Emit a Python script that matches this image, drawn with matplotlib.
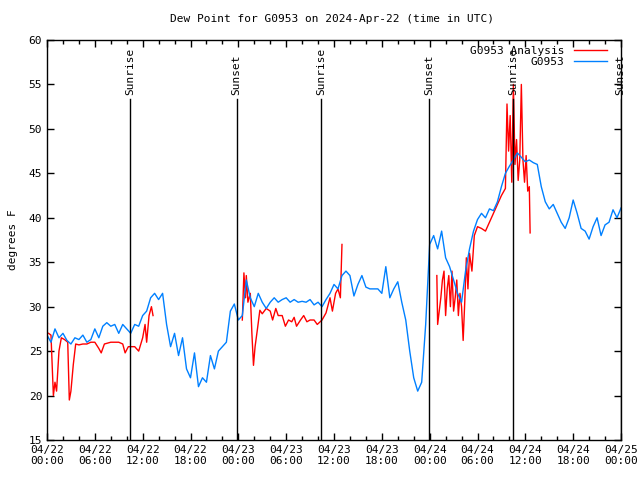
import numpy as np
import matplotlib
matplotlib.use("Agg")
import matplotlib.pyplot as plt
import matplotlib.dates as mdates
from matplotlib.ticker import MultipleLocator
import datetime as dt

start = dt.datetime(2024, 4, 22, 0, 0)

# Observed dew point (G0953), sampled every 0.5 h from 04/22 00:00
blue_vals = [
    26.8, 26.0, 27.5, 26.5, 27.0, 26.2, 25.8, 26.5, 26.3, 26.8,
    26.0, 26.3, 27.5, 26.5, 27.8, 28.2, 27.8, 28.0, 27.0, 28.0,
    27.5, 27.0, 28.0, 27.8, 29.0, 29.5, 31.0, 31.5, 30.8, 31.5,
    28.0, 25.5, 27.0, 24.5, 26.5, 23.0, 22.0, 24.8, 21.0, 22.0,
    21.5, 24.5, 23.0, 25.0, 25.5, 26.0, 29.5, 30.3, 28.5, 29.0,
    33.0, 31.0, 30.0, 31.5, 30.5, 29.8, 30.5, 31.0, 30.5, 30.8,
    31.0, 30.5, 30.8, 30.5, 30.6, 30.5, 30.8, 30.2, 30.5, 30.0,
    30.8, 31.5, 32.5, 32.0, 33.5, 34.0, 33.5, 31.2, 32.5, 33.5,
    32.2, 32.0, 32.0, 32.0, 31.5, 34.5, 31.0, 32.0, 32.8, 30.5,
    28.5, 25.0, 22.0, 20.5, 21.5, 28.0, 37.0, 38.0, 36.5, 38.5,
    35.5, 34.5, 33.0, 31.5, 30.5, 34.0, 36.5, 38.5, 39.8, 40.5,
    40.0, 41.0, 40.8, 41.8, 43.5, 45.0, 45.8, 46.5, 47.3, 46.8,
    46.3, 46.5, 46.2, 46.0, 43.5, 41.8, 41.0, 41.5, 40.5, 39.5,
    38.8, 40.0, 42.0, 40.5, 38.8, 38.5, 37.6, 39.0, 40.0, 38.0,
    39.2, 39.5, 40.9, 40.0, 41.1,
]
blue_hours = [0.5 * i for i in range(len(blue_vals))]

# Analysis dew point (G0953 Analysis); NaN marks gaps
red_hours = [
    0.2, 0.5, 0.8, 1.0, 1.2, 1.5, 1.8, 2.2, 2.6, 2.8, 3.0, 3.3, 3.6, 4.0,
    4.5, 5.0, 5.5, 6.0, 6.5, 6.8, 7.2, 8.0, 9.0, 9.5, 9.8, 10.2, 11.0, 11.5,
    12.0, 12.3, 12.5, 12.8, 13.1, 13.3, 13.5,
    24.5, 24.7, 24.9, 25.0, 25.2, 25.5, 25.7, 25.9, 26.1, 26.4, 26.7, 27.0,
    27.5, 28.0, 28.3, 28.7, 29.0, 29.5, 29.9, 30.3, 30.7, 31.0, 31.3, 31.8,
    32.2, 32.6, 33.0, 33.5, 33.9, 34.5, 35.0, 35.5, 35.8, 36.2, 36.5, 36.8,
    37.0, 37.1,
    48.9, 49.0, 49.2, 49.4, 49.6, 49.8, 50.0, 50.2, 50.4, 50.6, 50.8, 51.0,
    51.2, 51.4, 51.6, 51.8, 52.0, 52.2, 52.4, 52.6, 52.8, 53.0, 53.3, 53.6,
    54.0, 54.5, 55.0, 55.5, 56.0, 56.5, 57.0, 57.5, 57.7, 57.9, 58.1, 58.3,
    58.5, 58.7, 58.9, 59.1, 59.3, 59.5, 59.7, 59.9, 60.1, 60.3, 60.5, 60.6,
]
red_vals = [
    27.0, 26.8, 20.0, 21.5, 20.5, 25.0, 26.5, 26.3, 26.0, 19.5, 20.5, 23.5, 25.8, 25.7,
    25.8, 25.8, 26.0, 26.0, 25.3, 24.8, 25.8, 26.0, 26.0, 25.8, 24.8, 25.5, 25.5, 25.0,
    26.5, 28.0, 26.0, 29.0, 30.0, 29.0, np.nan,
    28.5, 33.8, 31.0, 33.5, 30.5, 31.5, 27.0, 23.4, 25.5, 27.5, 29.6, 29.2,
    29.8, 29.5, 28.5, 29.8, 29.0, 29.0, 27.8, 28.5, 28.3, 28.8, 27.8, 28.5,
    29.0, 28.3, 28.5, 28.5, 28.0, 28.5, 29.3, 31.0, 29.5, 31.5, 32.0, 31.0,
    37.0, np.nan,
    33.5, 28.0, 29.5, 31.0, 33.0, 34.0, 29.0, 32.0, 33.5, 30.0, 34.0, 29.5,
    31.0, 33.0, 29.0, 31.5, 30.0, 26.2, 30.5, 35.5, 32.0, 36.0, 34.0, 38.0,
    39.0, 38.8, 38.5, 39.5, 40.5, 41.5, 42.5, 43.3, 52.8, 47.5, 51.5, 44.0,
    55.0, 46.0, 48.8, 44.2, 46.5, 55.0, 46.5, 44.0, 47.0, 43.0, 43.5, 38.3,
]

# Sun events (hours from start)
event_hours = [10.4, 23.8, 34.4, 47.9, 58.5, 71.95]
event_labels = ["Sunrise", "Sunset", "Sunrise", "Sunset", "Sunrise", "Sunset"]
event_top = 53.4

x_tick_labels = ["04/22\n00:00", "04/22\n06:00", "04/22\n12:00", "04/22\n18:00",
                 "04/23\n00:00", "04/23\n06:00", "04/23\n12:00", "04/23\n18:00",
                 "04/24\n00:00", "04/24\n06:00", "04/24\n12:00", "04/24\n18:00",
                 "04/25\n00:00"]


def to_time(hours):
    return [start + dt.timedelta(hours=h) for h in hours]


plt.rcParams['font.family'] = ['DejaVu Sans Mono']
fig = plt.figure(figsize=(6.4, 4.8), dpi=100)
ax = fig.add_axes([47 / 640, 40 / 480, 574 / 640, 400 / 480])

ax.plot(to_time(red_hours), red_vals, color='#ff0000', lw=1.0, label='G0953 Analysis')
ax.plot(to_time(blue_hours), blue_vals, color='#0080ff', lw=1.0, label='G0953')

for h, lab in zip(event_hours, event_labels):
    t = start + dt.timedelta(hours=h)
    ax.plot([t, t], [15, event_top], color='black', lw=1.0)
    ax.text(t, event_top + 0.4, lab, rotation=90, ha='center', va='bottom', fontsize=8)

ax.set_xlim(start, start + dt.timedelta(hours=72))
ax.set_ylim(15, 60)

major = to_time([6 * i for i in range(13)])
ax.set_xticks(major)
ax.set_xticklabels(x_tick_labels, fontsize=8)
ax.set_xticks(to_time([2 * i for i in range(37)]), minor=True)
ax.yaxis.set_major_locator(MultipleLocator(5))
ax.tick_params(axis='y', labelsize=8)
ax.tick_params(which='both', direction='in', top=True, right=True, width=1)
ax.tick_params(which='major', length=5)
ax.tick_params(which='minor', length=3)
for s in ax.spines.values():
    s.set_linewidth(1)

ax.set_ylabel('degrees F', fontsize=8, labelpad=8)
fig.text(332 / 640, 1 - 19 / 480, 'Dew Point for G0953 on 2024-Apr-22 (time in UTC)',
         ha='center', va='center', fontsize=8)

leg = ax.legend(loc='upper right', frameon=False, markerfirst=False, fontsize=8,
                handlelength=3.0, borderaxespad=0.1, labelspacing=0.15,
                bbox_to_anchor=(0.985, 1.0))
for t in leg.get_texts():
    t.set_ha('right')

fig.savefig('out.png', dpi=100)
